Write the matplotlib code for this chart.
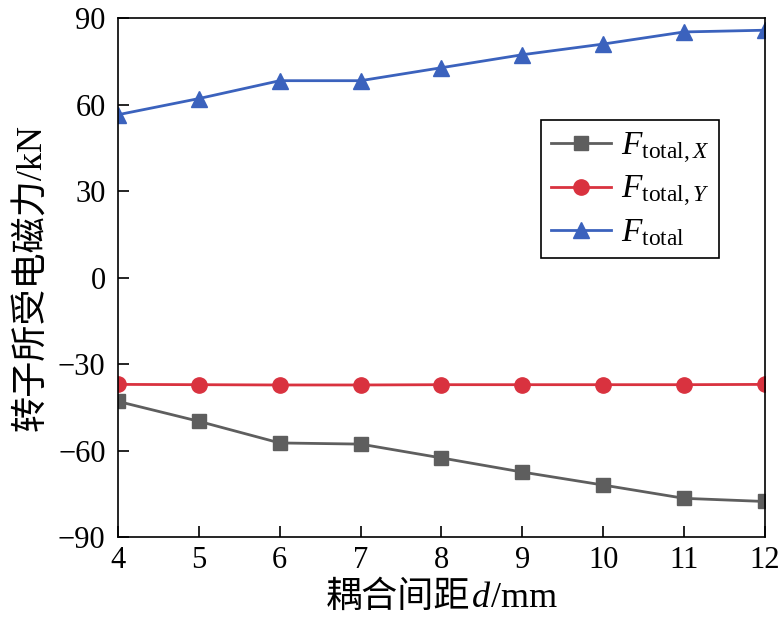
import matplotlib
matplotlib.use("Agg")
import matplotlib.pyplot as plt
from matplotlib.offsetbox import TextArea, HPacker, AnchoredOffsetbox

d = [4, 5, 6, 7, 8, 9, 10, 11, 12]
f_x = [-42.9, -49.8, -57.3, -57.7, -62.5, -67.4, -71.9, -76.5, -77.6]
f_y = [-37.0, -37.1, -37.2, -37.2, -37.1, -37.1, -37.1, -37.1, -37.0]
f_total = [56.5, 62.1, 68.3, 68.3, 72.8, 77.3, 81.0, 85.2, 85.8]
yticks = [-90, -60, -30, 0, 30, 60, 90]
xticks = [4, 5, 6, 7, 8, 9, 10, 11, 12]

plt.rcParams['font.family'] = ['Liberation Serif', 'Noto Sans CJK SC']
plt.rcParams['mathtext.fontset'] = 'custom'
plt.rcParams['mathtext.rm'] = 'Liberation Serif'
plt.rcParams['mathtext.it'] = 'Liberation Serif:italic'
plt.rcParams['axes.unicode_minus'] = True

fig = plt.figure(figsize=(7.79, 6.24), dpi=100)
ax = fig.add_axes([0.1515, 0.139, 0.8305, 0.832])

ax.plot(d, f_x, color='#5e5e5e', lw=2.0, marker='s', ms=10, label=r'$F_{\mathrm{total},X}$')
ax.plot(d, f_y, color='#d9323f', lw=2.0, marker='o', ms=11, label=r'$F_{\mathrm{total},Y}$')
ax.plot(d, f_total, color='#3b62bd', lw=2.0, marker='^', ms=11, label=r'$F_{\mathrm{total}}$')

ax.set_xlim(4, 12)
ax.set_ylim(-90, 90)
ax.set_xticks(xticks)
ax.set_yticks(yticks)
ax.tick_params(direction='in', length=8, width=1.2, labelsize=22, top=False, right=False)
ax.tick_params(axis='x', pad=6)
ax.tick_params(axis='y', pad=9)
for s in ax.spines.values():
    s.set_linewidth(1.2)

# x label with italic d
lab_fs = 26
parts = [
    TextArea('耦合间距', textprops=dict(fontsize=lab_fs, family=['Noto Sans CJK SC'])),
    TextArea('d', textprops=dict(fontsize=lab_fs, family=['Liberation Serif'], style='italic')),
    TextArea('/mm', textprops=dict(fontsize=lab_fs, family=['Liberation Serif'])),
]
box = HPacker(children=parts, align='baseline', pad=0, sep=1)
anch = AnchoredOffsetbox(loc='upper center', child=box, pad=0, frameon=False,
                         bbox_to_anchor=(0.5, -0.08), bbox_transform=ax.transAxes,
                         borderpad=0)
ax.add_artist(anch)

ax.set_ylabel('转子所受电磁力/kN', fontsize=lab_fs, labelpad=6,
              family=['Liberation Serif', 'Noto Sans CJK SC'])

leg = ax.legend(loc='upper right', bbox_to_anchor=(0.929, 0.803), fontsize=24,
                frameon=True, fancybox=False, edgecolor='black', framealpha=1,
                handlelength=1.8, borderpad=0.3, labelspacing=0.25, handletextpad=0.3,
                borderaxespad=0)
leg.get_frame().set_linewidth(1.2)

fig.savefig('out.png', dpi=100)
